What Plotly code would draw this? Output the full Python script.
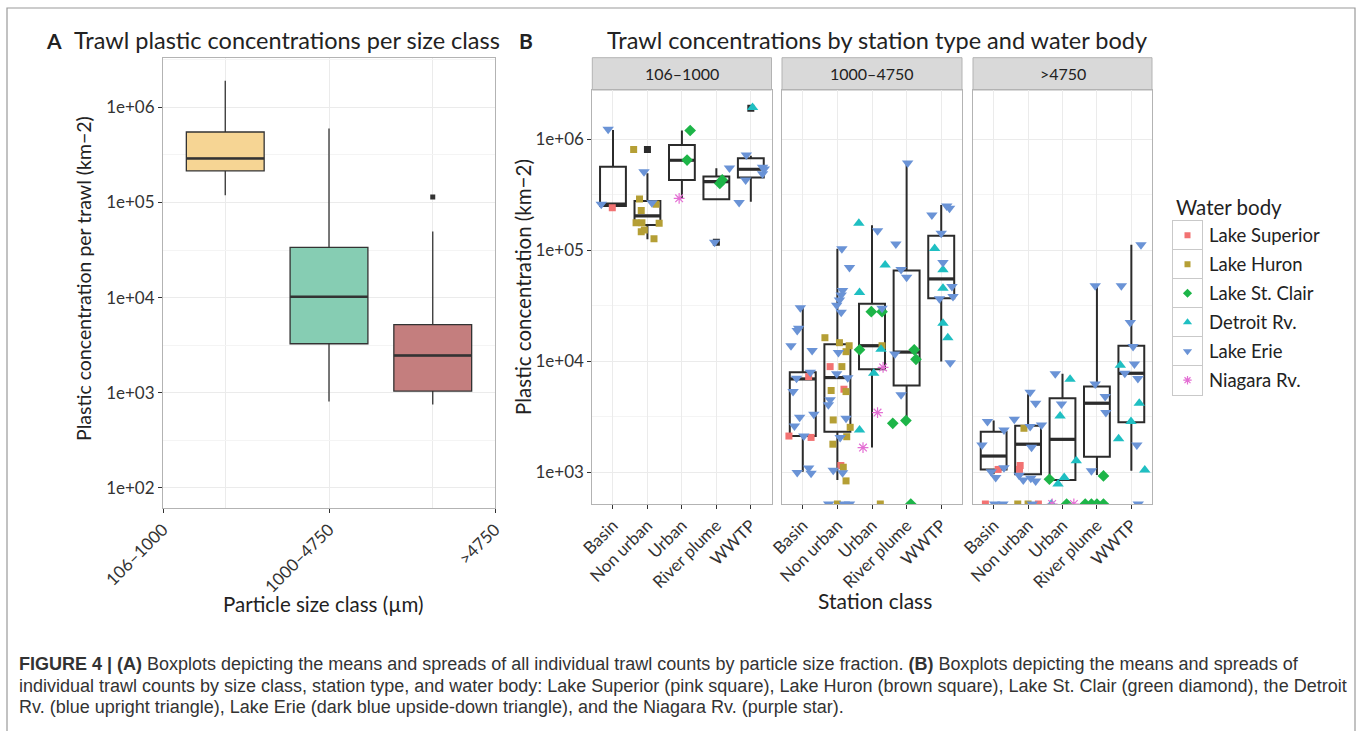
import plotly.graph_objects as go

W, H = 1358, 731

# ---------------- Panel A: all trawls per size class ----------------
SIZE_CLASSES = ["106–1000", "1000–4750", ">4750"]
A_Q1 = [2.15e5, 3.27e3, 1.04e3]
A_MEDIAN = [2.9e5, 1.02e4, 2.46e3]
A_Q3 = [5.5e5, 3.37e4, 5.2e3]
A_LOW = [1.19e5, 807, 752]
A_HIGH = [1.9e6, 6.0e5, 4.96e4]
A_FILL = ["#F6D594", "#86CDB3", "#C47E7E"]
A_OUTLIER_CLASS = [">4750"]
A_OUTLIER_VALUE = [1.14e5]

# ---------------- Panel B: per size class, station class, water body ----------------
FACETS = ["106–1000", "1000–4750", ">4750"]
STATIONS = ["Basin", "Non urban", "Urban", "River plume", "WWTP"]

# one row per facet, one value per station class
B_Q1 = [[2.51e5, 1.69e5, 4.3e5, 2.88e5, 4.52e5],
        [2.12e3, 2.32e3, 8.47e3, 6.04e3, 3.7e4],
        [1.06e3, 960, 853, 1.38e3, 2.82e3]]
B_MEDIAN = [[2.6e5, 2.04e5, 6.47e5, 4.16e5, 5.37e5],
            [6.93e3, 7.13e3, 1.38e4, 1.21e4, 5.52e4],
            [1.4e3, 1.79e3, 1.98e3, 4.19e3, 7.8e3]]
B_Q3 = [[5.67e5, 2.78e5, 8.9e5, 4.62e5, 6.74e5],
        [7.96e3, 1.42e4, 3.29e4, 6.56e4, 1.35e5],
        [2.32e3, 2.63e3, 4.65e3, 5.92e3, 1.38e4]]
B_LOW = [[2.42e5, 1.26e5, 2.94e5, 2.85e5, 2.74e5],
         [1.01e3, 853, 1.67e3, 2.96e3, 9.94e3],
         [960, 955, 850, 946, 1.03e3]]
B_HIGH = [[1.21e6, 4.94e5, 1.2e6, 5.48e5, 7.1e5],
          [3.1e4, 1.03e5, 1.68e5, 6.08e5, 2.56e5],
          [2.92e3, 5.05e3, 7.7e3, 4.71e4, 1.12e5]]
B_OUTLIERS = [("106–1000", "Non urban", 8.1e5),
              ("106–1000", "River plume", 1.18e5),
              ("106–1000", "WWTP", 1.9e6)]

WATER_BODIES = ["Lake Superior", "Lake Huron", "Lake St. Clair",
                "Detroit Rv.", "Lake Erie", "Niagara Rv."]
WB_COLORS = ["#F27272", "#B59F35", "#1DB548", "#1FBFC2", "#6A93D6", "#E46FD4"]
WB_SYMBOLS = ["square", "square", "diamond", "triangle-up", "triangle-down", "asterisk-open"]
WB_SIZES = [7, 7, 9, 10, 10, 9]

# individual trawls: (water body, station class, horizontal jitter, concentration); 0 = none found
PTS_106_1000 = [
    ("Lake Erie", "Basin", -0.14, 1.23e6), ("Lake Erie", "Basin", -0.34, 2.6e5),
    ("Lake Superior", "Basin", -0.02, 2.42e5),
    ("Lake Huron", "Non urban", -0.40, 8.1e5), ("Lake Huron", "Non urban", -0.23, 2.9e5),
    ("Lake Huron", "Non urban", -0.18, 2.28e5), ("Lake Huron", "Non urban", -0.33, 1.77e5),
    ("Lake Huron", "Non urban", -0.16, 1.77e5), ("Lake Huron", "Non urban", -0.18, 1.47e5),
    ("Lake Huron", "Non urban", -0.09, 1.52e5), ("Lake Huron", "Non urban", 0.19, 1.27e5),
    ("Lake Huron", "Non urban", 0.34, 1.75e5), ("Lake Huron", "Non urban", 0.25, 2.6e5),
    ("Lake Erie", "Non urban", -0.10, 5.1e5), ("Lake Erie", "Non urban", 0.13, 2.68e5),
    ("Lake St. Clair", "Urban", 0.24, 1.2e6), ("Lake St. Clair", "Urban", 0.15, 6.5e5),
    ("Niagara Rv.", "Urban", -0.08, 2.94e5),
    ("Lake St. Clair", "River plume", 0.10, 4.0e5), ("Lake St. Clair", "River plume", 0.17, 4.3e5),
    ("Lake Erie", "River plume", 0.38, 5.5e5), ("Lake Erie", "River plume", -0.05, 1.18e5),
    ("Detroit Rv.", "WWTP", 0.05, 1.93e6),
    ("Lake Erie", "WWTP", -0.34, 2.7e5), ("Lake Erie", "WWTP", -0.15, 4.3e5),
    ("Lake Erie", "WWTP", -0.13, 7.2e5), ("Lake Erie", "WWTP", 0.34, 5.6e5),
    ("Lake Erie", "WWTP", 0.34, 4.9e5), ("Lake Erie", "WWTP", 0.39, 5.4e5),
]

PTS_1000_4750 = [
    ("Lake Erie", "Basin", -0.07, 3.04e4), ("Lake Erie", "Basin", -0.12, 1.98e4),
    ("Lake Erie", "Basin", -0.16, 1.89e4), ("Lake Erie", "Basin", -0.34, 1.38e4),
    ("Lake Erie", "Basin", 0.27, 1.25e4), ("Lake Erie", "Basin", 0.22, 7.96e3),
    ("Lake Erie", "Basin", -0.18, 7.03e3), ("Lake Erie", "Basin", -0.28, 5.33e3),
    ("Lake Erie", "Basin", -0.09, 3.13e3), ("Lake Erie", "Basin", 0.32, 3.33e3),
    ("Lake Erie", "Basin", -0.24, 2.61e3), ("Lake Erie", "Basin", 0.03, 2.12e3),
    ("Lake Erie", "Basin", -0.16, 993), ("Lake Erie", "Basin", 0.17, 1.09e3),
    ("Lake Erie", "Basin", 0.24, 980),
    ("Lake Superior", "Basin", 0.17, 7.28e3), ("Lake Superior", "Basin", -0.40, 2.12e3),
    ("Lake Superior", "Basin", 0.24, 2.06e3),
    ("Lake Erie", "Non urban", 0.13, 1.03e5), ("Lake Erie", "Non urban", 0.35, 6.98e4),
    ("Lake Erie", "Non urban", 0.15, 4.33e4), ("Lake Erie", "Non urban", 0.11, 3.96e4),
    ("Lake Erie", "Non urban", 0.06, 3.57e4), ("Lake Erie", "Non urban", -0.02, 3.2e4),
    ("Lake Erie", "Non urban", 0.11, 2.76e4), ("Lake Erie", "Non urban", 0.03, 1.2e4),
    ("Lake Erie", "Non urban", -0.02, 7.7e3), ("Lake Erie", "Non urban", 0.30, 7.1e3),
    ("Lake Erie", "Non urban", -0.21, 4.5e3), ("Lake Erie", "Non urban", -0.26, 4.05e3),
    ("Lake Erie", "Non urban", 0.25, 3.07e3), ("Lake Erie", "Non urban", 0.08, 2.06e3),
    ("Lake Erie", "Non urban", -0.12, 1.04e3), ("Lake Erie", "Non urban", 0.15, 990),
    ("Lake Erie", "Non urban", -0.25, 0), ("Lake Erie", "Non urban", 0.20, 0),
    ("Lake Erie", "Non urban", 0.35, 0),
    ("Lake Huron", "Non urban", -0.36, 1.63e4), ("Lake Huron", "Non urban", 0.06, 1.47e4),
    ("Lake Huron", "Non urban", 0.34, 1.38e4), ("Lake Huron", "Non urban", 0.25, 1.22e4),
    ("Lake Huron", "Non urban", 0.13, 8.95e3), ("Lake Huron", "Non urban", -0.18, 5.45e3),
    ("Lake Huron", "Non urban", 0.25, 5.33e3), ("Lake Huron", "Non urban", -0.12, 2.96e3),
    ("Lake Huron", "Non urban", 0.37, 2.54e3), ("Lake Huron", "Non urban", 0.27, 2.09e3),
    ("Lake Huron", "Non urban", -0.13, 1.79e3), ("Lake Huron", "Non urban", 0.17, 1.11e3),
    ("Lake Huron", "Non urban", 0.25, 836), ("Lake Huron", "Non urban", 0.0, 0),
    ("Lake Superior", "Non urban", -0.21, 8.95e3), ("Lake Superior", "Non urban", 0.19, 5.6e3),
    ("Lake Superior", "Non urban", 0.10, 1.15e3),
    ("Detroit Rv.", "Urban", -0.38, 1.75e5), ("Detroit Rv.", "Urban", 0.38, 7.38e4),
    ("Detroit Rv.", "Urban", -0.36, 4.16e4), ("Detroit Rv.", "Urban", 0.26, 1.28e4),
    ("Detroit Rv.", "Urban", 0.05, 7.8e3), ("Detroit Rv.", "Urban", -0.36, 2.4e3),
    ("Lake Erie", "Urban", 0.16, 1.5e5), ("Lake Erie", "Urban", 0.29, 3.0e4),
    ("Lake St. Clair", "Urban", -0.02, 2.8e4), ("Lake St. Clair", "Urban", 0.29, 2.8e4),
    ("Lake St. Clair", "Urban", -0.36, 1.27e4),
    ("Lake Huron", "Urban", 0.29, 1.38e4), ("Lake Huron", "Urban", 0.24, 0),
    ("Niagara Rv.", "Urban", 0.32, 8.8e3), ("Niagara Rv.", "Urban", 0.16, 3.45e3),
    ("Niagara Rv.", "Urban", -0.26, 1.67e3),
    ("Lake Erie", "River plume", 0.03, 6.1e5), ("Lake Erie", "River plume", -0.31, 1.14e5),
    ("Lake Erie", "River plume", -0.16, 6.7e4), ("Lake Erie", "River plume", 0.0, 5.7e4),
    ("Lake Erie", "River plume", -0.34, 1.16e4), ("Lake Erie", "River plume", -0.16, 4.98e3),
    ("Lake St. Clair", "River plume", 0.22, 1.27e4), ("Lake St. Clair", "River plume", 0.27, 1.04e4),
    ("Lake St. Clair", "River plume", -0.40, 2.76e3), ("Lake St. Clair", "River plume", -0.02, 2.92e3),
    ("Lake St. Clair", "River plume", 0.12, 0),
    ("Lake Erie", "WWTP", -0.27, 2.08e5), ("Lake Erie", "WWTP", 0.16, 2.5e5),
    ("Lake Erie", "WWTP", 0.24, 2.39e5), ("Lake Erie", "WWTP", 0.0, 1.42e5),
    ("Lake Erie", "WWTP", 0.05, 7.74e4), ("Lake Erie", "WWTP", 0.31, 4.71e4),
    ("Lake Erie", "WWTP", 0.34, 3.83e4), ("Lake Erie", "WWTP", -0.05, 3.65e4),
    ("Lake Erie", "WWTP", 0.26, 9.7e3),
    ("Detroit Rv.", "WWTP", -0.19, 1.04e5), ("Detroit Rv.", "WWTP", 0.05, 6.66e4),
    ("Detroit Rv.", "WWTP", 0.05, 4.55e4), ("Detroit Rv.", "WWTP", 0.05, 2.2e4),
    ("Detroit Rv.", "WWTP", 0.19, 1.63e4),
]

PTS_4750 = [
    ("Lake Erie", "Basin", -0.18, 2.86e3), ("Lake Erie", "Basin", 0.30, 2.4e3),
    ("Lake Erie", "Basin", -0.34, 1.76e3), ("Lake Erie", "Basin", 0.30, 1.1e3),
    ("Lake Erie", "Basin", -0.07, 1.01e3), ("Lake Erie", "Basin", 0.06, 895),
    ("Lake Erie", "Basin", 0.03, 0), ("Lake Erie", "Basin", 0.27, 0),
    ("Lake Superior", "Basin", 0.13, 1.06e3), ("Lake Superior", "Basin", -0.24, 0),
    ("Lake Erie", "Non urban", 0.06, 5.26e3), ("Lake Erie", "Non urban", 0.22, 4.19e3),
    ("Lake Erie", "Non urban", -0.40, 3.0e3), ("Lake Erie", "Non urban", 0.06, 2.58e3),
    ("Lake Erie", "Non urban", 0.39, 2.67e3), ("Lake Erie", "Non urban", 0.10, 1.68e3),
    ("Lake Erie", "Non urban", -0.26, 940), ("Lake Erie", "Non urban", -0.14, 853),
    ("Lake Erie", "Non urban", 0.08, 883), ("Lake Erie", "Non urban", 0.22, 836),
    ("Lake Erie", "Non urban", 0.12, 0),
    ("Lake Huron", "Non urban", -0.12, 2.49e3), ("Lake Huron", "Non urban", -0.30, 0),
    ("Lake Huron", "Non urban", 0.0, 0),
    ("Lake Superior", "Non urban", -0.23, 1.15e3), ("Lake Superior", "Non urban", -0.25, 1.06e3),
    ("Lake Superior", "Non urban", 0.30, 0),
    ("Lake Erie", "Urban", -0.21, 7.7e3), ("Lake Erie", "Urban", -0.03, 4.13e3),
    ("Detroit Rv.", "Urban", 0.22, 6.9e3), ("Detroit Rv.", "Urban", -0.07, 3.22e3),
    ("Detroit Rv.", "Urban", 0.40, 1.27e3), ("Detroit Rv.", "Urban", 0.05, 895),
    ("Detroit Rv.", "Urban", -0.13, 785), ("Detroit Rv.", "Urban", -0.32, 0),
    ("Lake St. Clair", "Urban", -0.38, 865), ("Lake St. Clair", "Urban", 0.12, 0),
    ("Niagara Rv.", "Urban", -0.30, 0), ("Niagara Rv.", "Urban", 0.33, 0),
    ("Lake Erie", "River plume", -0.05, 4.8e4), ("Lake Erie", "River plume", -0.05, 6.25e3),
    ("Lake Erie", "River plume", 0.24, 4.81e3), ("Lake Erie", "River plume", 0.26, 3.45e3),
    ("Lake Erie", "River plume", -0.16, 1.03e3),
    ("Lake St. Clair", "River plume", 0.19, 927), ("Lake St. Clair", "River plume", -0.34, 0),
    ("Lake St. Clair", "River plume", -0.16, 0), ("Lake St. Clair", "River plume", 0.0, 0),
    ("Lake St. Clair", "River plume", 0.19, 0),
    ("Lake Erie", "WWTP", 0.28, 1.12e5), ("Lake Erie", "WWTP", -0.29, 4.8e4),
    ("Lake Erie", "WWTP", -0.03, 2.24e4), ("Lake Erie", "WWTP", 0.05, 1.36e4),
    ("Lake Erie", "WWTP", 0.09, 9.46e3), ("Lake Erie", "WWTP", -0.19, 7.8e3),
    ("Lake Erie", "WWTP", 0.19, 7.0e3), ("Lake Erie", "WWTP", 0.16, 1.76e3),
    ("Lake Erie", "WWTP", 0.20, 0),
    ("Detroit Rv.", "WWTP", -0.32, 9.2e3), ("Detroit Rv.", "WWTP", 0.23, 4.19e3),
    ("Detroit Rv.", "WWTP", -0.01, 2.86e3), ("Detroit Rv.", "WWTP", -0.37, 2.0e3),
    ("Detroit Rv.", "WWTP", 0.39, 1.05e3),
]
FACET_POINTS = [PTS_106_1000, PTS_1000_4750, PTS_4750]

# ---------------- layout helpers (pixel -> paper) ----------------
def fx(p):
    return p / W


def fy(p):
    return 1 - p / H


TEXT = "#222222"
TICK = "#333333"
GRID = "#EBEBEB"
GRID_MINOR = "#F4F4F4"
BORDER = "#B3B3B3"
FONT = "Lato"

A_YRANGE = [1.788, 6.515]
B_YRANGE = [2.714, 6.444]
B_FLOOR = 10 ** B_YRANGE[0]   # zero counts sit on the panel floor
BOX_W = 0.75

fig = go.Figure()

# ---- Panel A boxes
for i, cls in enumerate(SIZE_CLASSES):
    fig.add_trace(go.Box(
        x=[i], q1=[A_Q1[i]], median=[A_MEDIAN[i]], q3=[A_Q3[i]],
        lowerfence=[A_LOW[i]], upperfence=[A_HIGH[i]],
        width=BOX_W, whiskerwidth=0, boxpoints=False,
        fillcolor=A_FILL[i], line=dict(color="#333333", width=1.3),
        xaxis="x", yaxis="y", showlegend=False, hoverinfo="skip"))
# thicker median bars
mx, my = [], []
for i, m in enumerate(A_MEDIAN):
    mx += [i - BOX_W / 2, i + BOX_W / 2, None]
    my += [m, m, None]
fig.add_trace(go.Scatter(x=mx, y=my, mode="lines", line=dict(color="#333333", width=2.4),
                         xaxis="x", yaxis="y", showlegend=False, hoverinfo="skip"))
fig.add_trace(go.Scatter(
    x=[SIZE_CLASSES.index(c) for c in A_OUTLIER_CLASS], y=A_OUTLIER_VALUE, mode="markers",
    marker=dict(symbol="square", size=5, color="#333333"),
    xaxis="x", yaxis="y", showlegend=False, hoverinfo="skip"))

# ---- Panel B facets
for f, facet in enumerate(FACETS):
    ax = str(f + 2)
    pos = list(range(1, len(STATIONS) + 1))
    fig.add_trace(go.Box(
        x=pos, q1=B_Q1[f], median=B_MEDIAN[f], q3=B_Q3[f],
        lowerfence=B_LOW[f], upperfence=B_HIGH[f],
        width=BOX_W, whiskerwidth=0, boxpoints=False,
        fillcolor="rgba(255,255,255,0)", line=dict(color="#2B2B2B", width=2),
        xaxis="x" + ax, yaxis="y" + ax, showlegend=False, hoverinfo="skip"))
    mx, my = [], []
    for p, m in zip(pos, B_MEDIAN[f]):
        mx += [p - BOX_W / 2, p + BOX_W / 2, None]
        my += [m, m, None]
    fig.add_trace(go.Scatter(x=mx, y=my, mode="lines", line=dict(color="#2B2B2B", width=3.2),
                             xaxis="x" + ax, yaxis="y" + ax, showlegend=False, hoverinfo="skip"))
    outs = [o for o in B_OUTLIERS if o[0] == facet]
    if outs:
        fig.add_trace(go.Scatter(
            x=[STATIONS.index(o[1]) + 1 for o in outs], y=[o[2] for o in outs], mode="markers",
            marker=dict(symbol="square", size=7, color="#2B2B2B"),
            xaxis="x" + ax, yaxis="y" + ax, showlegend=False, hoverinfo="skip"))
    for w, wb in enumerate(WATER_BODIES):
        pts = [p for p in FACET_POINTS[f] if p[0] == wb]
        if not pts:
            continue
        xs = [STATIONS.index(p[1]) + 1 + p[2] for p in pts]
        ys = [p[3] if p[3] > 0 else B_FLOOR for p in pts]
        fig.add_trace(go.Scatter(
            x=xs, y=ys, mode="markers", cliponaxis=True,
            marker=dict(symbol=WB_SYMBOLS[w], size=WB_SIZES[w], color=WB_COLORS[w],
                        line=dict(color=WB_COLORS[w], width=1.2 if w == 5 else 0)),
            xaxis="x" + ax, yaxis="y" + ax, showlegend=False, hoverinfo="skip"))

# ---- legend keys (own small axis, one row per water body)
for w, wb in enumerate(WATER_BODIES):
    fig.add_trace(go.Scatter(
        x=[0], y=[w], mode="markers",
        marker=dict(symbol=WB_SYMBOLS[w], size=max(WB_SIZES[w] - 2, 6), color=WB_COLORS[w],
                    line=dict(color=WB_COLORS[w], width=1.2 if w == 5 else 0)),
        xaxis="x5", yaxis="y5", showlegend=False, hoverinfo="skip"))

A_DECADES = [1e2, 1e3, 1e4, 1e5, 1e6]
B_DECADES = [1e3, 1e4, 1e5, 1e6]
YTICK_FONT = dict(family=FONT, size=17, color=TICK)
XTICK_FONT = dict(family=FONT, size=17, color=TICK)


def sci(v):
    return "1e+0%d" % (len(str(int(v))) - 1)


layout = dict(
    width=W, height=H, autosize=False, margin=dict(l=0, r=0, t=0, b=0, pad=0, autoexpand=False),
    paper_bgcolor="white", plot_bgcolor="white", showlegend=False,
    font=dict(family=FONT, color=TEXT),
    xaxis=dict(domain=[fx(163), fx(495)], range=[-0.6, 2.6], anchor="y", automargin=False,
               tickvals=[-0.6, 1, 2.6], ticktext=SIZE_CLASSES, tickangle=-45,
               ticks="outside", ticklen=4, tickcolor=TICK, tickfont=XTICK_FONT,
               showgrid=False, zeroline=False, showline=True, mirror=True, linecolor=BORDER,
               minor=dict(tickvals=[0, 1, 2], showgrid=True, gridcolor=GRID, ticks="")),
    yaxis=dict(domain=[fy(508), fy(58.3)], type="log", range=A_YRANGE, anchor="x", automargin=False,
               tickvals=A_DECADES, ticktext=[sci(v) for v in A_DECADES],
               ticks="outside", ticklen=4, tickcolor=TICK, tickfont=YTICK_FONT,
               showgrid=True, gridcolor=GRID, zeroline=False, showline=True, mirror=True, linecolor=BORDER,
               minor=dict(tickvals=[10 ** (k + 0.5) for k in range(1, 7)], showgrid=True,
                          gridcolor=GRID_MINOR, ticks="")),
)

B_XDOM = [[592.3, 771.5], [782, 962], [973, 1152]]
for f in range(3):
    ax = str(f + 2)
    layout["xaxis" + ax] = dict(
        domain=[fx(B_XDOM[f][0]), fx(B_XDOM[f][1])], range=[0.4, 5.6], anchor="y" + ax, automargin=False,
        tickvals=list(range(1, 6)), ticktext=STATIONS, tickangle=-45,
        ticks="outside", ticklen=4, tickcolor=TICK, tickfont=XTICK_FONT,
        showgrid=True, gridcolor=GRID, zeroline=False, showline=True, mirror=True, linecolor=BORDER)
    layout["yaxis" + ax] = dict(
        domain=[fy(504), fy(90)], type="log", range=B_YRANGE, anchor="x" + ax, automargin=False,
        tickvals=B_DECADES, ticktext=[sci(v) for v in B_DECADES],
        ticks="outside" if f == 0 else "", ticklen=4, tickcolor=TICK, tickfont=YTICK_FONT,
        showticklabels=(f == 0),
        showgrid=True, gridcolor=GRID, zeroline=False, showline=True, mirror=True, linecolor=BORDER,
        minor=dict(tickvals=[10 ** (k + 0.5) for k in range(2, 7)], showgrid=True,
                   gridcolor=GRID_MINOR, ticks=""))

LEG_BOX = "#C9C9C9"
layout["xaxis5"] = dict(domain=[fx(1173), fx(1202)], range=[-0.5, 0.5], anchor="y5", automargin=False,
                        showgrid=False, zeroline=False, showticklabels=False, ticks="",
                        showline=True, mirror=True, linecolor=LEG_BOX)
layout["yaxis5"] = dict(domain=[fy(394.7), fy(220.7)], range=[len(WATER_BODIES) - 0.5, -0.5], anchor="x5",
                        automargin=False,
                        tickvals=[k + 0.5 for k in range(len(WATER_BODIES) - 1)],
                        showgrid=True, gridcolor=LEG_BOX, zeroline=False, showticklabels=False, ticks="",
                        showline=True, mirror=True, linecolor=LEG_BOX)

fig.update_layout(**layout)

# ---- strips
shapes = []
annotations = []
for f, facet in enumerate(FACETS):
    x0, x1 = B_XDOM[f]
    shapes.append(dict(type="rect", xref="paper", yref="paper", x0=fx(x0), x1=fx(x1),
                       y0=fy(90), y1=fy(57.7), fillcolor="#D9D9D9", line=dict(color=BORDER, width=1),
                       layer="below"))
    annotations.append(dict(text=facet, xref="paper", yref="paper", x=fx((x0 + x1) / 2), y=fy(74),
                            showarrow=False, xanchor="center", yanchor="middle",
                            font=dict(family=FONT, size=16, color=TEXT)))

# outer frame
shapes.append(dict(type="rect", xref="paper", yref="paper", x0=fx(7), x1=fx(1355), y0=-0.05, y1=fy(8),
                   line=dict(color="#9A9A9A", width=1.2), fillcolor="rgba(0,0,0,0)"))


def label(text, x, y, size, xanchor="left", angle=0, bold=False, family=FONT, color=TEXT):
    annotations.append(dict(text=("<b>%s</b>" % text) if bold else text, xref="paper", yref="paper",
                            x=fx(x), y=fy(y), showarrow=False, xanchor=xanchor, yanchor="middle",
                            textangle=angle, font=dict(family=family, size=size, color=color)))


label("A", 44, 40, 21, bold=True)
label("Trawl plastic concentrations per size class", 72, 40, 23.5)
label("B", 517, 40, 21, bold=True)
label("Trawl concentrations by station type and water body", 605, 40, 23.5)
label("Plastic concentration per trawl (km−2)", 83, 279, 19.5, xanchor="center", angle=-90)
label("Particle size class (µm)", 323, 604, 20.5, xanchor="center")
label("Plastic concentration (km−2)", 523, 287, 20.5, xanchor="center", angle=-90)
label("Station class", 875, 600, 21, xanchor="center")
label("Water body", 1174, 207, 20.5)
for w, wb in enumerate(WATER_BODIES):
    annotations.append(dict(text=wb, xref="paper", yref="y5", x=fx(1207), y=w, showarrow=False,
                            xanchor="left", yanchor="middle", font=dict(family=FONT, size=18.5, color=TEXT)))

CAPTION = [
    "<b>FIGURE 4 | (A)</b> Boxplots depicting the means and spreads of all individual trawl counts by "
    "particle size fraction. <b>(B)</b> Boxplots depicting the means and spreads of",
    "individual trawl counts by size class, station type, and water body: Lake Superior (pink square), "
    "Lake Huron (brown square), Lake St. Clair (green diamond), the Detroit",
    "Rv. (blue upright triangle), Lake Erie (dark blue upside-down triangle), and the Niagara Rv. (purple star).",
]
for k, line in enumerate(CAPTION):
    label(line, 17, 664 + 21.5 * k, 18, family="Liberation Sans", color="#333333")

fig.update_layout(shapes=shapes, annotations=annotations)
fig.write_html("out.html")
